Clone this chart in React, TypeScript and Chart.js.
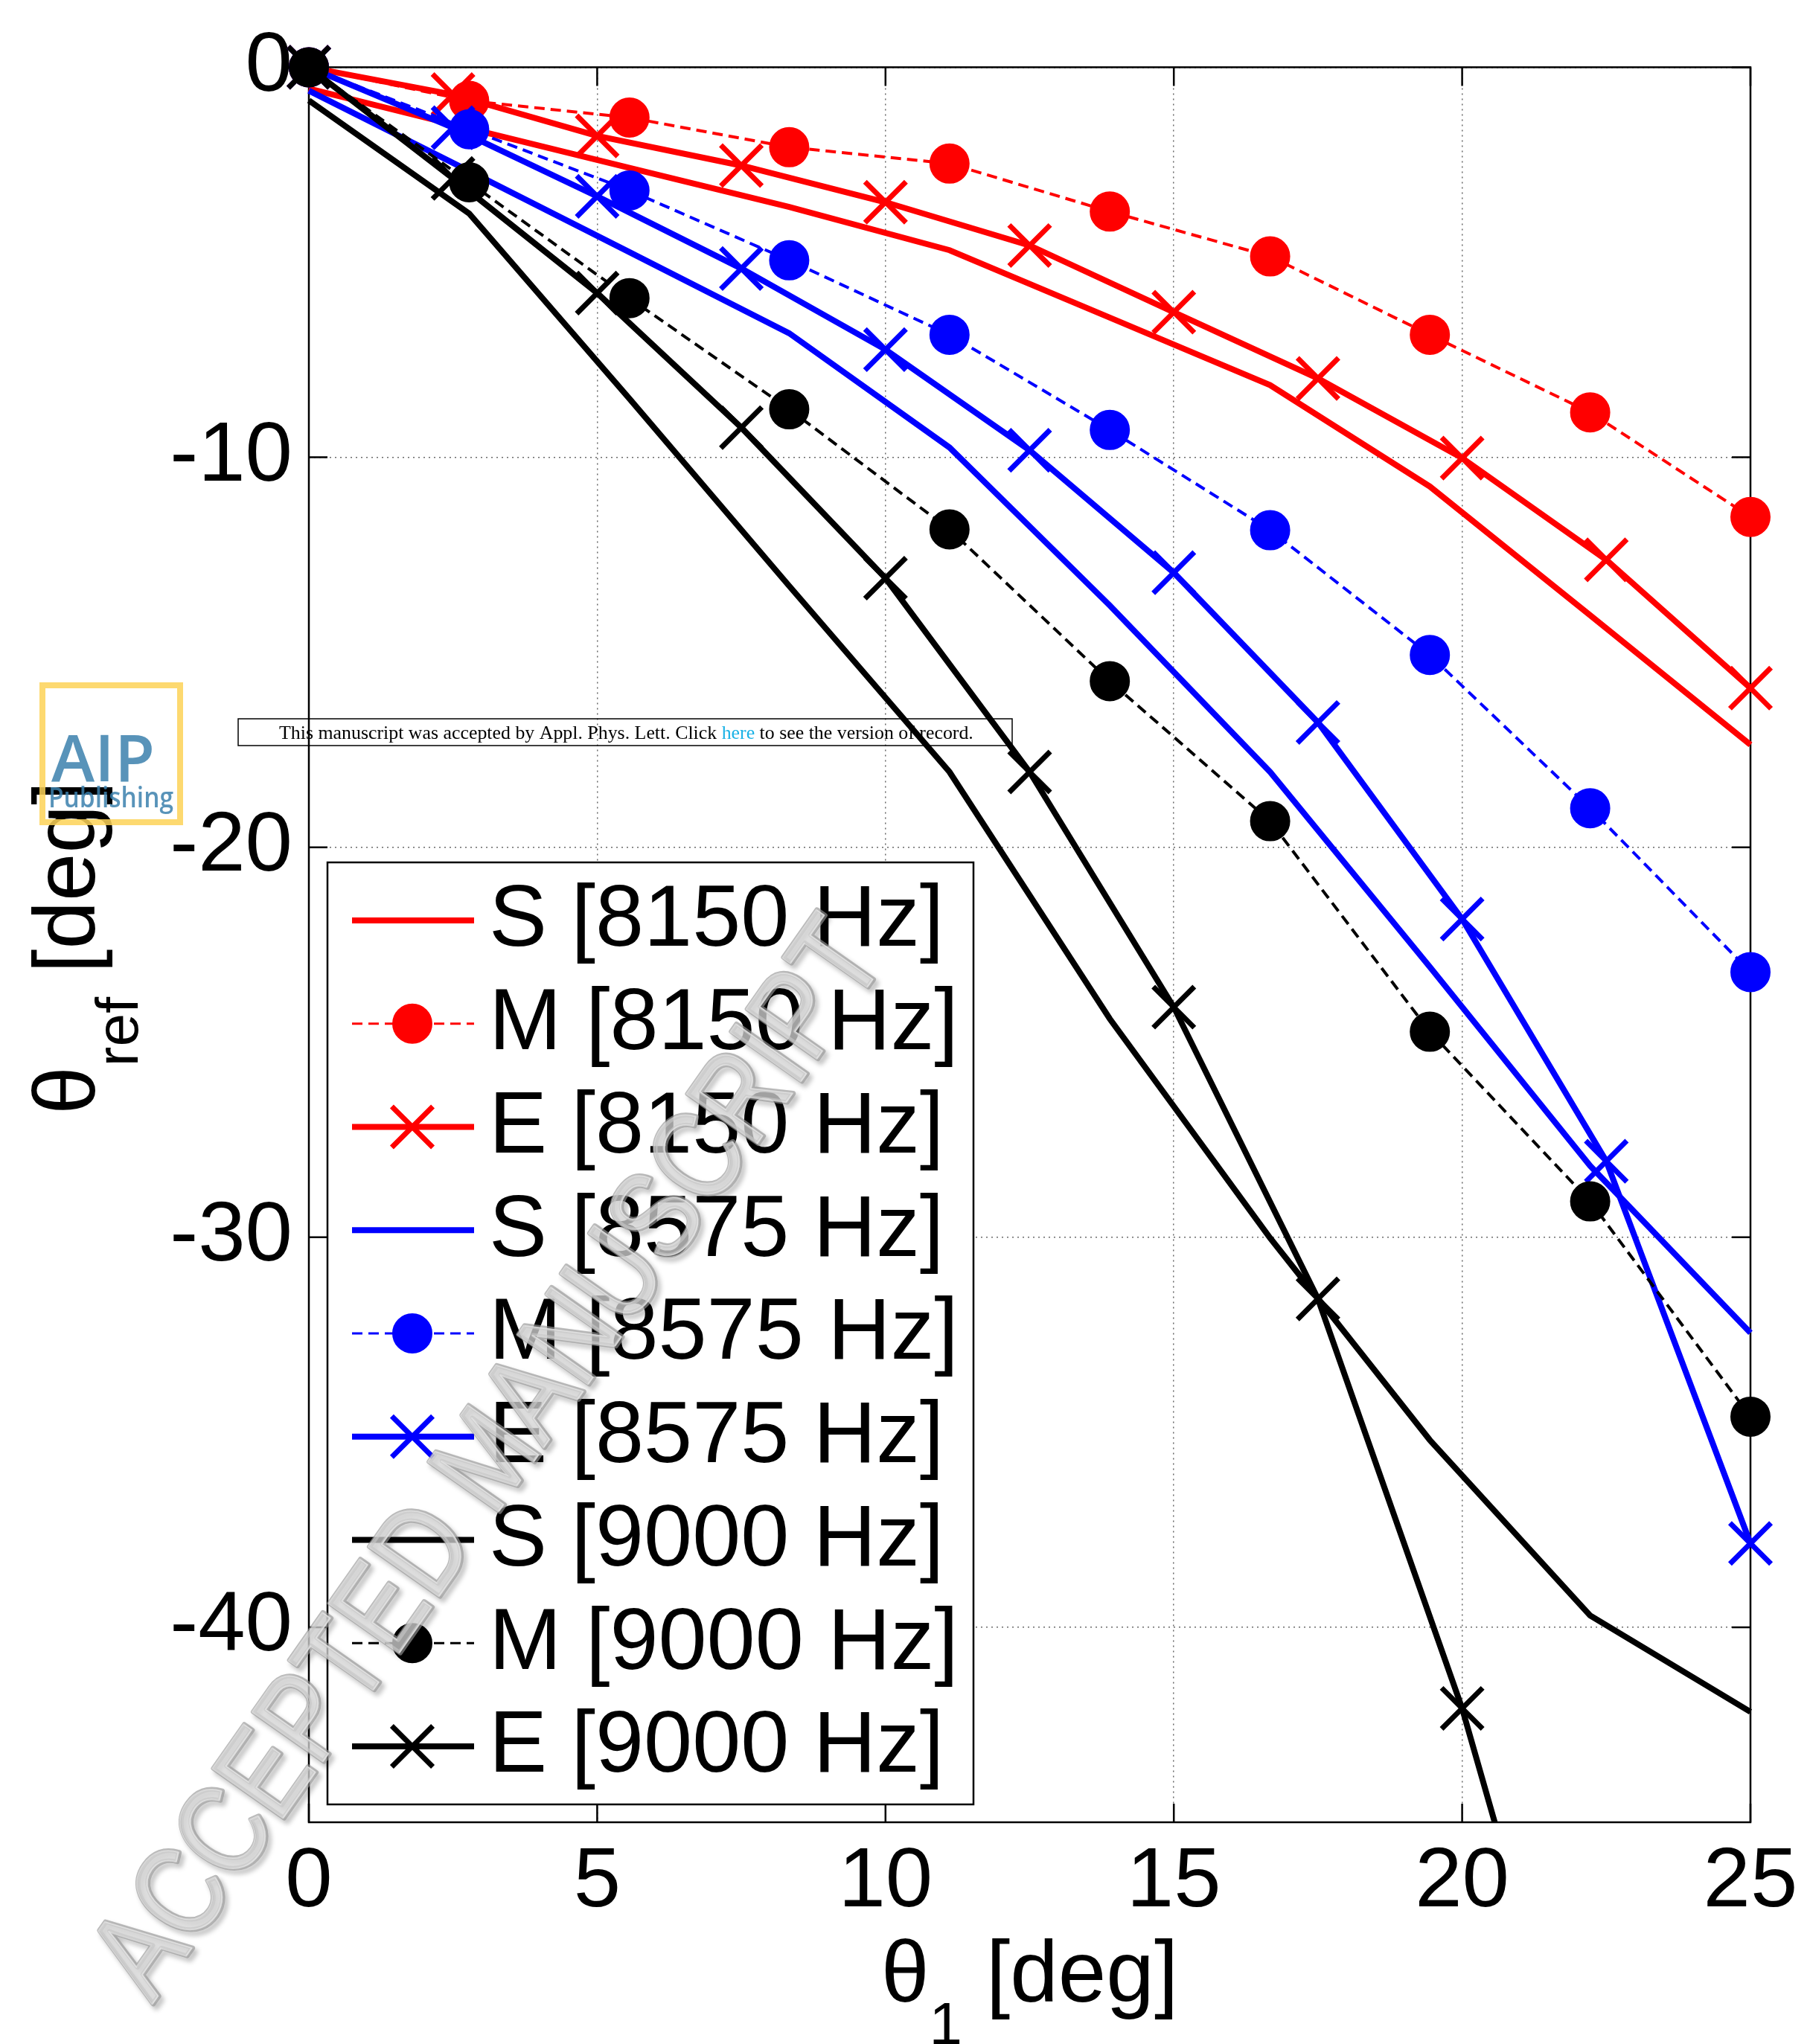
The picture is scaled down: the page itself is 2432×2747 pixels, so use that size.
import React, { useEffect, useRef } from "react";
import { Chart, registerables } from "chart.js";

Chart.register(...registerables);

// ---------- data ----------
const xM = [0, 2.78, 5.56, 8.33, 11.11, 13.89, 16.67, 19.44, 22.22, 25];
const xE = [0, 2.5, 5, 7.5, 10, 12.5, 15, 17.5, 20, 22.5, 25];

const S8150 = [-0.55, -1.57, -2.58, -3.58, -4.69, -6.42, -8.15, -10.75, -14.05, -17.37];
const M8150 = [0, -0.86, -1.29, -2.05, -2.47, -3.7, -4.85, -6.86, -8.85, -11.53];
const E8150 = [0, -0.7, -1.76, -2.52, -3.46, -4.57, -6.28, -7.98, -10.02, -12.63, -15.92];
const S8575 = [-0.6, -2.66, -4.74, -6.82, -9.75, -13.8, -18.07, -23.07, -28.17, -32.45];
const M8575 = [0, -1.59, -3.16, -4.95, -6.86, -9.3, -11.87, -15.07, -19.0, -23.2];
const E8575 = [0, -1.55, -3.31, -5.16, -7.24, -9.82, -12.96, -16.8, -21.84, -28.05, -37.85];
const S9000 = [-0.85, -3.75, -8.5, -13.3, -18.07, -24.4, -30.02, -35.2, -39.7, -42.17];
const M9000 = [0, -2.95, -5.92, -8.77, -11.85, -15.74, -19.33, -24.73, -29.08, -34.6];
const E9000 = [0, -2.85, -5.79, -9.24, -13.1, -18.07, -24.1, -31.58, -42.08, -55.0, null];

const seriesLabels = [
  "S [8150 Hz]", "M [8150 Hz]", "E [8150 Hz]",
  "S [8575 Hz]", "M [8575 Hz]", "E [8575 Hz]",
  "S [9000 Hz]", "M [9000 Hz]", "E [9000 Hz]",
];
const seriesKinds = ["S", "M", "E", "S", "M", "E", "S", "M", "E"];
const seriesValues = [S8150, M8150, E8150, S8575, M8575, E8575, S9000, M9000, E9000];
const seriesColors = ["#ff0000", "#ff0000", "#ff0000", "#0000ff", "#0000ff", "#0000ff", "#000000", "#000000", "#000000"];

const xTicks = [0, 5, 10, 15, 20, 25];
const yTicks = [0, -10, -20, -30, -40];
const xRange = [0, 25];
const yRange = [-45, 0];

const xTitleMain = "θ";
const xTitleSub = "1";
const yTitleMain = "θ";
const yTitleSub = "ref";
const titleUnit = " [deg]";

const bannerParts: [string, string][] = [
  ["This manuscript was accepted by Appl. Phys. Lett. Click ", "#000000"],
  ["here", "#1ab2e6"],
  [" to see the version of record.", "#000000"],
];
const watermarkText = "ACCEPTED MANUSCRIPT";

// ---------- styling ----------
const FONT = '"Liberation Sans", Arial, Helvetica, sans-serif';
const W = 2432;
const H = 2747;

const toPts = (xs: number[], ys: (number | null)[]) => xs.map((x, i) => ({ x, y: ys[i] }));

function makeDataset(i: number) {
  const kind = seriesKinds[i];
  const c = seriesColors[i];
  const xs = kind === "E" ? xE : xM;
  const base: any = {
    label: seriesLabels[i],
    data: toPts(xs, seriesValues[i]),
    borderColor: c,
    backgroundColor: c,
    order: 20 - i,
    tension: 0,
    fill: false,
    clip: { left: 60, top: 60, right: 60, bottom: 0 },
  };
  if (kind === "S") {
    return { ...base, borderWidth: 8, pointRadius: 0, pointHoverRadius: 0 };
  }
  if (kind === "M") {
    return {
      ...base,
      borderWidth: 4,
      borderDash: [14, 8],
      pointStyle: "circle",
      pointRadius: 26,
      pointHoverRadius: 26,
      pointBorderWidth: 2,
      pointBackgroundColor: c,
      pointBorderColor: c,
    };
  }
  return {
    ...base,
    borderWidth: 8,
    pointStyle: "crossRot",
    pointRadius: 39,
    pointHoverRadius: 39,
    pointBorderWidth: 7,
    pointBackgroundColor: c,
    pointBorderColor: c,
  };
}

// axes box + inward ticks (drawn beneath the data)
const boxPlugin = {
  id: "matlabBox",
  beforeDatasetsDraw(chart: any) {
    const { ctx, chartArea: a, scales } = chart;
    ctx.save();
    ctx.strokeStyle = "#000";
    ctx.lineWidth = 2.5;
    ctx.strokeRect(a.left, a.top, a.right - a.left, a.bottom - a.top);
    const tl = 25;
    ctx.beginPath();
    xTicks.forEach((v) => {
      const px = scales.x.getPixelForValue(v);
      ctx.moveTo(px, a.bottom);
      ctx.lineTo(px, a.bottom - tl);
      ctx.moveTo(px, a.top);
      ctx.lineTo(px, a.top + tl);
    });
    yTicks.forEach((v) => {
      const py = scales.y.getPixelForValue(v);
      ctx.moveTo(a.left, py);
      ctx.lineTo(a.left + tl, py);
      ctx.moveTo(a.right, py);
      ctx.lineTo(a.right - tl, py);
    });
    ctx.stroke();
    ctx.restore();
  },
};

function drawMarker(ctx: CanvasRenderingContext2D, ds: any, x: number, y: number) {
  if (ds.pointStyle === "circle") {
    ctx.beginPath();
    ctx.arc(x, y, ds.pointRadius, 0, Math.PI * 2);
    ctx.fillStyle = ds.pointBackgroundColor;
    ctx.fill();
    ctx.lineWidth = ds.pointBorderWidth;
    ctx.strokeStyle = ds.pointBorderColor;
    ctx.setLineDash([]);
    ctx.stroke();
  } else if (ds.pointStyle === "crossRot") {
    const o = ds.pointRadius * Math.SQRT1_2;
    ctx.beginPath();
    ctx.moveTo(x - o, y - o);
    ctx.lineTo(x + o, y + o);
    ctx.moveTo(x + o, y - o);
    ctx.lineTo(x - o, y + o);
    ctx.lineWidth = ds.pointBorderWidth;
    ctx.strokeStyle = ds.pointBorderColor;
    ctx.setLineDash([]);
    ctx.stroke();
  }
}

// legend inside the axes, MATLAB style
const legendPlugin = {
  id: "matlabLegend",
  afterDatasetsDraw(chart: any) {
    const { ctx, chartArea: a } = chart;
    const left = a.left + 25;
    const top = 1159;
    const right = 1308;
    const bottom = a.bottom - 24;
    ctx.save();
    ctx.fillStyle = "#fff";
    ctx.fillRect(left, top, right - left, bottom - top);
    ctx.strokeStyle = "#000";
    ctx.lineWidth = 2.5;
    ctx.strokeRect(left, top, right - left, bottom - top);
    const n = chart.data.datasets.length;
    const first = 78;
    const step = (bottom - top - 2 * first) / (n - 1);
    chart.data.datasets.forEach((ds: any, i: number) => {
      const y = top + first + i * step;
      ctx.beginPath();
      ctx.moveTo(left + 33, y);
      ctx.lineTo(left + 197, y);
      ctx.strokeStyle = ds.borderColor;
      ctx.lineWidth = ds.borderDash ? 3 : ds.borderWidth;
      ctx.setLineDash(ds.borderDash || []);
      ctx.stroke();
      ctx.setLineDash([]);
      drawMarker(ctx, ds, left + 114, y);
      ctx.fillStyle = "#000";
      ctx.font = `117px ${FONT}`;
      ctx.textAlign = "left";
      ctx.textBaseline = "middle";
      ctx.fillText(ds.label, left + 217, y + 2);
    });
    ctx.restore();
  },
};

function fitFont(ctx: CanvasRenderingContext2D, text: string, family: string, targetW: number, base: number) {
  ctx.font = `${base}px ${family}`;
  const w = ctx.measureText(text).width;
  return (base * targetW) / w;
}

// axis titles + publisher overlays
const overlayPlugin = {
  id: "overlays",
  afterDraw(chart: any) {
    const { ctx, chartArea: a } = chart;
    ctx.save();
    const mainF = `116px ${FONT}`;
    const subF = `80px ${FONT}`;

    // x title
    ctx.fillStyle = "#000";
    ctx.textBaseline = "alphabetic";
    ctx.textAlign = "left";
    ctx.font = mainF;
    const wT = ctx.measureText(xTitleMain).width;
    const wU = ctx.measureText(titleUnit).width;
    ctx.font = subF;
    const wS = ctx.measureText(xTitleSub).width;
    const x0 = (a.left + a.right) / 2 - (wT + wS + wU) / 2;
    const base = 2690;
    ctx.font = mainF;
    ctx.fillText(xTitleMain, x0, base);
    ctx.font = subF;
    ctx.fillText(xTitleSub, x0 + wT, base + 57);
    ctx.font = mainF;
    ctx.fillText(titleUnit, x0 + wT + wS, base);

    // y title (rotated)
    ctx.save();
    ctx.translate(127, (a.top + a.bottom) / 2 + 4);
    ctx.rotate(-Math.PI / 2);
    ctx.font = mainF;
    const yT = ctx.measureText(yTitleMain).width;
    const yU = ctx.measureText(titleUnit).width;
    ctx.font = subF;
    const yS = ctx.measureText(yTitleSub).width;
    const y0 = -(yT + yS + yU) / 2;
    ctx.font = mainF;
    ctx.fillText(yTitleMain, y0, 0);
    ctx.font = subF;
    ctx.fillText(yTitleSub, y0 + yT, 58);
    ctx.font = mainF;
    ctx.fillText(titleUnit, y0 + yT + yS, 0);
    ctx.restore();

    // banner
    ctx.strokeStyle = "#000";
    ctx.lineWidth = 1.5;
    ctx.strokeRect(320, 966, 1040, 36);
    const serif = '"Liberation Serif", "Times New Roman", serif';
    const full = bannerParts.map((p) => p[0]).join("");
    const bs = fitFont(ctx, full, serif, 933, 26);
    ctx.font = `${bs}px ${serif}`;
    let bx = 375;
    bannerParts.forEach(([t, c]) => {
      ctx.fillStyle = c;
      ctx.fillText(t, bx, 993);
      bx += ctx.measureText(t).width;
    });

    // AIP Publishing logo
    ctx.globalAlpha = 0.85;
    ctx.strokeStyle = "#fdd257";
    ctx.lineWidth = 8;
    ctx.strokeRect(57, 921, 185, 184);
    ctx.fillStyle = "#3b80ad";
    const logoF = '"Open Sans", "Noto Sans", sans-serif';
    ctx.font = `600 86px ${logoF}`;
    const aw = ctx.measureText("AIP").width;
    ctx.save();
    ctx.translate(69, 1050);
    ctx.scale(139 / aw, 1);
    ctx.fillText("AIP", 0, 0);
    ctx.restore();
    ctx.font = `600 38px ${logoF}`;
    const pw = ctx.measureText("Publishing").width;
    ctx.save();
    ctx.translate(65, 1085);
    ctx.scale(168 / pw, 1);
    ctx.fillText("Publishing", 0, 0);
    ctx.restore();
    ctx.globalAlpha = 1;

    // diagonal embossed watermark
    ctx.save();
    ctx.translate(700, 1990);
    ctx.rotate((-54.9 * Math.PI) / 180);
    const wsz = 168;
    ctx.font = `${wsz}px ${FONT}`;
    const ww = ctx.measureText(watermarkText).width;
    ctx.scale(1720 / ww, 1);
    ctx.textAlign = "center";
    ctx.lineJoin = "round";
    // soft dark shadow underneath
    ctx.shadowColor = "rgba(0,0,0,0.4)";
    ctx.shadowOffsetX = 4;
    ctx.shadowOffsetY = 5;
    ctx.shadowBlur = 6;
    ctx.strokeStyle = "rgba(150,150,150,0.65)";
    ctx.lineWidth = 7;
    ctx.strokeText(watermarkText, 0, 0);
    ctx.shadowColor = "rgba(0,0,0,0)";
    ctx.fillStyle = "rgba(215,215,215,0.75)";
    ctx.fillText(watermarkText, 0, 0);
    ctx.strokeStyle = "rgba(235,235,235,0.6)";
    ctx.lineWidth = 2;
    ctx.strokeText(watermarkText, -1, -1);
    ctx.restore();

    ctx.restore();
  },
};

export default function App() {
  const ref = useRef<HTMLCanvasElement | null>(null);
  useEffect(() => {
    if (!ref.current) return;
    const chart = new Chart(ref.current, {
      type: "line",
      data: { datasets: seriesLabels.map((_, i) => makeDataset(i)) as any },
      options: {
        animation: false,
        responsive: false,
        maintainAspectRatio: false,
        devicePixelRatio: 1,
        events: [],
        layout: { padding: { top: 84, right: 80, left: 0, bottom: 0 } },
        plugins: { legend: { display: false }, tooltip: { enabled: false } },
        scales: {
          x: {
            type: "linear",
            min: xRange[0],
            max: xRange[1],
            afterBuildTicks: (s: any) => {
              s.ticks = xTicks.map((v) => ({ value: v }));
            },
            afterFit: (s: any) => {
              s.height = 298;
            },
            grid: { color: "rgba(90,90,90,0.9)", lineWidth: 1.5, drawTicks: false },
            border: { display: false, dash: [2, 5] },
            ticks: {
              color: "#000",
              font: { family: FONT, size: 114 },
              padding: 13,
              maxRotation: 0,
              autoSkip: false,
              callback: (v: any) => String(v),
            },
          },
          y: {
            type: "linear",
            min: yRange[0],
            max: yRange[1],
            afterBuildTicks: (s: any) => {
              s.ticks = yTicks.map((v) => ({ value: v }));
            },
            afterFit: (s: any) => {
              s.width = 415;
            },
            grid: { color: "rgba(90,90,90,0.9)", lineWidth: 1.5, drawTicks: false },
            border: { display: false, dash: [2, 5] },
            ticks: {
              color: "#000",
              font: { family: FONT, size: 114 },
              padding: 22,
              autoSkip: false,
              callback: (v: any) => String(v),
            },
          },
        },
      },
      plugins: [boxPlugin, legendPlugin, overlayPlugin],
    });
    return () => chart.destroy();
  }, []);

  return (
    <div style={{ position: "absolute", left: 0, top: 0, width: W, height: H, background: "#fff" }}>
      <canvas ref={ref} width={W} height={H} style={{ width: W, height: H, display: "block" }} />
    </div>
  );
}
